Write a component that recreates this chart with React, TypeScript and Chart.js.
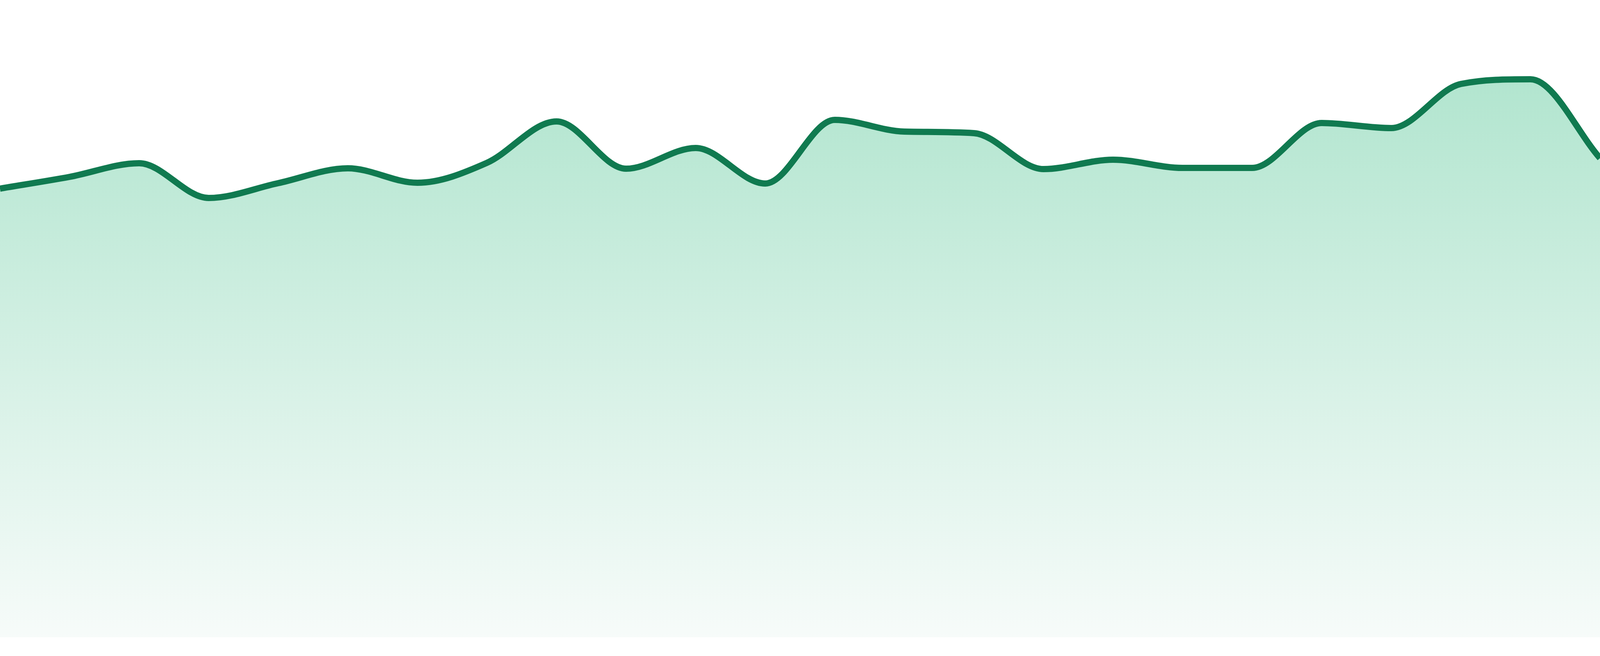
import React, { useEffect, useRef } from 'react';
import { Chart, registerables } from 'chart.js';

Chart.register(...registerables);

// one point per period, evenly spaced across the full width
const labels = [
   'P01', 'P02', 'P03', 'P04', 'P05', 'P06', 'P07', 'P08',
   'P09', 'P10', 'P11', 'P12', 'P13', 'P14', 'P15', 'P16',
   'P17', 'P18', 'P19', 'P20', 'P21', 'P22', 'P23', 'P24',
];

const values = [
   114.9, 117.9, 121.4, 112.5, 116.3, 120.1, 116.4, 121.5,
   132.1, 120.0, 125.3, 116.2, 132.5, 129.5, 129.1, 119.9,
   122.3, 120.2, 120.2, 131.7, 130.4, 141.7, 142.9, 122.7,
];

// y range: a little room under the baseline, top of canvas at max
const yMin = -4.8;
const yMax = 163.2;

const lineColor = '#107a50';
const fillTop = '#a8e2c9';
const fillBottom = '#f9fcfb';

const AreaChart = () => {
   const canvasRef = useRef<HTMLCanvasElement | null>(null);

   useEffect(() => {
      document.body.style.margin = '0';
      document.body.style.overflow = 'hidden';

      if (canvasRef.current === null) {
         return;
      }
      const dpr = window.devicePixelRatio || 1;

      const chart = new Chart(canvasRef.current, {
         type: 'line',
         data: {
            labels: labels,
            datasets: [
               {
                  data: values,
                  borderColor: lineColor,
                  borderWidth: 16 / dpr,
                  fill: 'origin',
                  cubicInterpolationMode: 'monotone',
                  pointRadius: 0,
                  backgroundColor: (context: any) => {
                     const { chart } = context;
                     const { ctx, chartArea } = chart;
                     if (!chartArea) {
                        return fillTop;
                     }
                     const gradient = ctx.createLinearGradient(0, chartArea.top, 0, chartArea.bottom);
                     gradient.addColorStop(0, fillTop);
                     gradient.addColorStop(1, fillBottom);
                     return gradient;
                  },
               },
            ],
         },
         options: {
            animation: false,
            responsive: true,
            maintainAspectRatio: false,
            layout: { padding: 0 },
            plugins: {
               legend: { display: false },
               tooltip: { enabled: false },
            },
            scales: {
               x: { display: false, offset: false },
               y: { display: false, min: yMin, max: yMax },
            },
         },
      });

      // Cleanup function to remove chart on component unmount
      return () => {
         chart.destroy();
      };
   }, []);

   return (
      <div style={{ position: 'relative', width: '100vw', height: '100vh' }}>
         <canvas ref={canvasRef} />
      </div>
   );
};

export default function App() {
   return <AreaChart />;
}
